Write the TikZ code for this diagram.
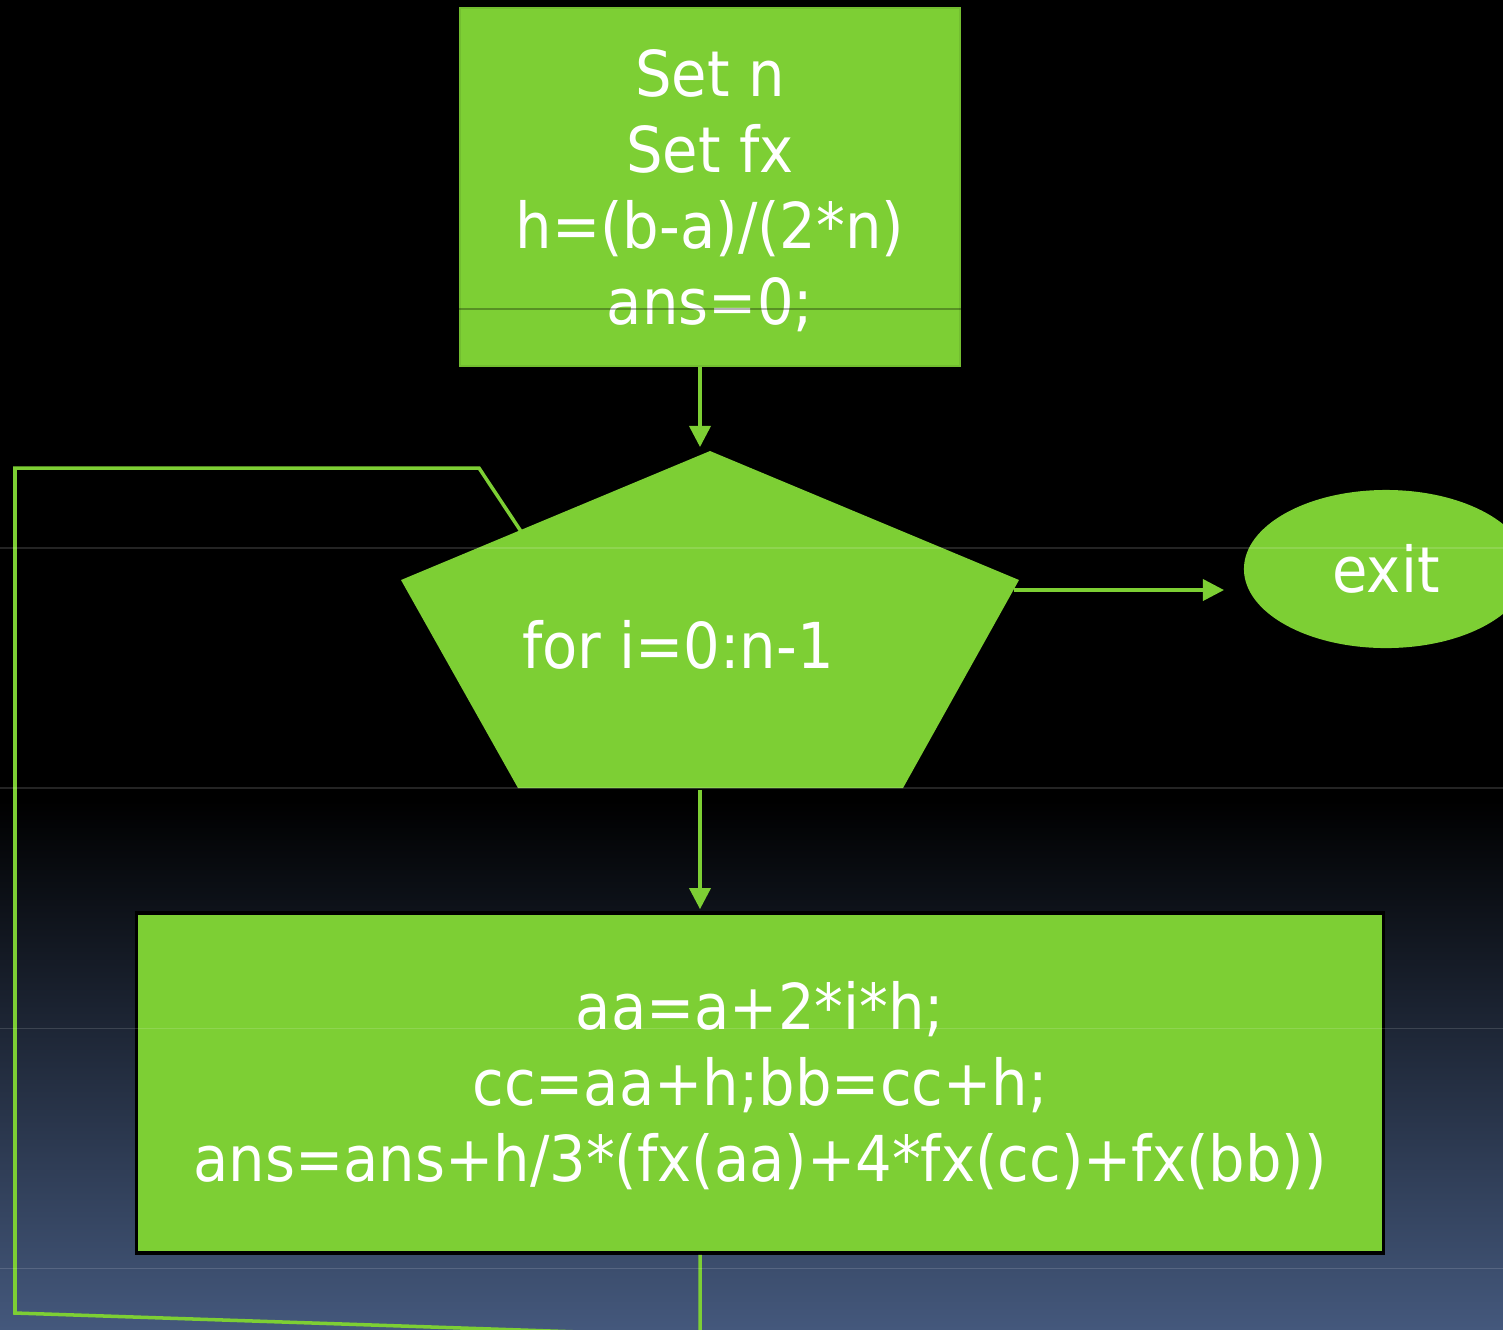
\documentclass[tikz,border=0pt]{standalone}
\usepackage{fontspec}
\setmainfont{DejaVu Sans}[FakeStretch=0.91]
\usetikzlibrary{arrows.meta,shapes.geometric,calc}
\definecolor{fgreen}{RGB}{125,207,52}
\definecolor{bgblue}{RGB}{68,88,124}
\tikzset{
  conn/.style={draw=fgreen,line width=1pt},
  arr/.style={conn,-{Triangle[length=6pt,width=6pt]}},
  gbox/.style={fill=fgreen,text=white,align=center,inner sep=0pt,
    font=\fontsize{18pt}{21.6pt}\selectfont},
  gridline/.style={draw=white,draw opacity=0.14,line width=0.3pt},
}
\begin{document}
\begin{tikzpicture}[x=0.01cm,y=-0.01cm]
\useasboundingbox (0,0) rectangle (1503,1329);
\clip (0,0) rectangle (1503,1329);
% background
\fill[black] (0,0) rectangle (1503,1329);
\shade[top color=black,bottom color=bgblue] (0,800) rectangle (1503,1329);

% loop-back connector (under the pentagon)
\coordinate (lb1) at (700,1336);
\coordinate (lb2) at (15,1313);
\coordinate (lb3) at (15,468);
\coordinate (lb4) at (479,468);
\coordinate (lb5) at (540,560);

% top box
\node[gbox,draw=fgreen!92!black,line width=0.4pt,minimum width=5cm,minimum height=3.58cm] (init) at (710,187) {};
\node[gbox,fill=none] (inittext) at (710,191) {Set n\\Set fx\\h=(b-a)/(2*n)\\ans=0;};

% pentagon
\coordinate (pt) at (710,451);
\coordinate (pr) at (1019,580);
\coordinate (pbr) at (903,788);
\coordinate (pbl) at (518,788);
\coordinate (pl) at (401,580);
\coordinate (pin) at (700,447);
\coordinate (pout) at (700,790);
\coordinate (pexit) at (1014,590);

% bottom box
\node[gbox,draw=black,line width=1pt,minimum width=12.46cm,minimum height=3.4cm] (body) at (760,1083) {};
\node[gbox,fill=none] (bodytext) at (760,1086) {aa=a+2*i*h;\\cc=aa+h;bb=cc+h;\\ans=ans+h/3*(fx(aa)+4*fx(cc)+fx(bb))};

\draw[conn] (body.south -| pout) -- (lb1) -- (lb2) -- (lb3) -- (lb4) -- (lb5);

\fill[fgreen] (pt) -- (pr) -- (pbr) -- (pbl) -- (pl) -- cycle;
\node[gbox,fill=none] (loop) at (678,645) {for i=0:n-1};

% exit
\node[gbox,ellipse,minimum width=2.84cm,minimum height=1.58cm] (exit) at (1386,569) {exit};
\coordinate (exitin) at (1224,590);

% connectors
\draw[arr] (init.south -| pin) -- (pin);
\draw[arr] (pout) -- ($(body.north -| pout)+(0,-2)$);
\draw[arr] (pexit) -- (exitin);

% faint guide lines
\draw[draw=black,draw opacity=0.3,line width=0.35pt] (init.west |- 0,309) -- (init.east |- 0,309);
\foreach \yy in {548,788,1028,1268}
  \draw[gridline] (0,\yy) -- (1503,\yy);
\end{tikzpicture}
\end{document}
